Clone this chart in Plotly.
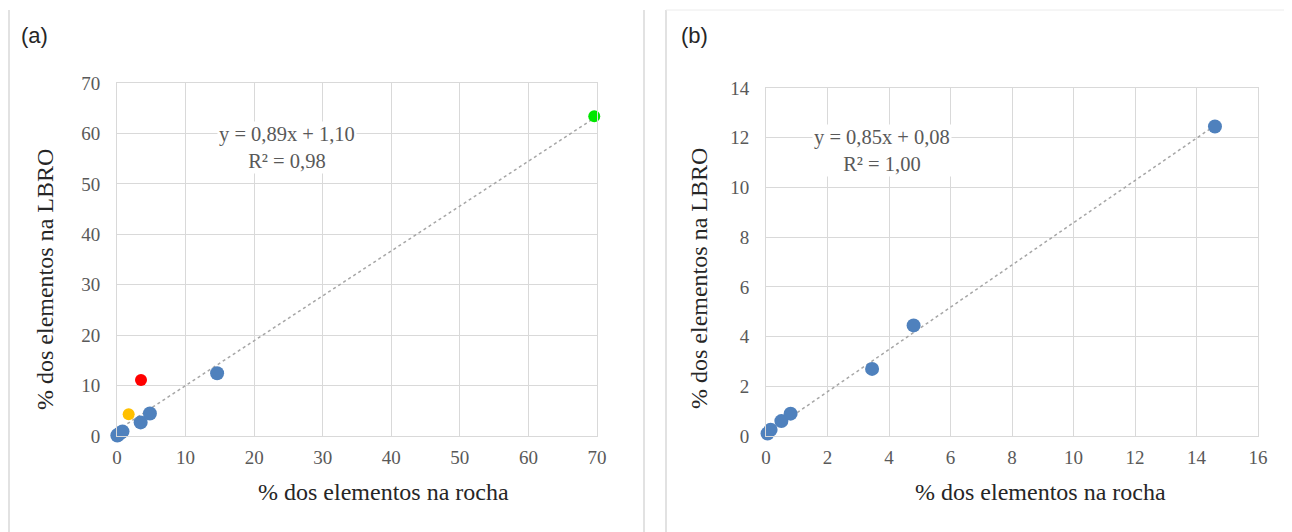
import plotly.graph_objects as go

# ---- Data ----
# Panel (a)
a_blue_x = [0.05, 0.15, 0.5, 0.8, 3.45, 4.8, 14.6]
a_blue_y = [0.1, 0.25, 0.6, 0.9, 2.7, 4.45, 12.45]
a_red_x = [3.5]
a_red_y = [11.1]
a_orange_x = [1.7]
a_orange_y = [4.3]
a_green_x = [69.6]
a_green_y = [63.4]
a_slope, a_intercept = 0.89, 1.10
a_eq = "y = 0,89x + 1,10<br>R² = 0,98"

# Panel (b)
b_x = [0.05, 0.15, 0.5, 0.8, 3.45, 4.8, 14.6]
b_y = [0.1, 0.25, 0.6, 0.9, 2.7, 4.45, 12.45]
b_slope, b_intercept = 0.85, 0.08
b_eq = "y = 0,85x + 0,08<br>R² = 1,00"

a_ticks = [0, 10, 20, 30, 40, 50, 60, 70]
b_xticks = [0, 2, 4, 6, 8, 10, 12, 14, 16]
b_yticks = [0, 2, 4, 6, 8, 10, 12, 14]

x_title = "% dos elementos na rocha"
y_title = "% dos elementos na LBRO"

W, H = 1292, 532
OFF = 8  # page body margin
BLUE = "#4F81BD"
GRID = "#d9d9d9"
TICK_COL = "#595959"
TITLE_COL = "#262626"
SERIF = "Liberation Serif"
SANS = "Liberation Sans"

fig = go.Figure()

# trendlines
a_all_x = a_blue_x + a_red_x + a_orange_x + a_green_x
a_tx = [min(a_all_x), max(a_all_x)]
fig.add_trace(go.Scatter(x=a_tx, y=[a_slope * v + a_intercept for v in a_tx],
                         mode="lines", line=dict(color="#a6a6a6", width=1.5, dash="dot"),
                         xaxis="x", yaxis="y", showlegend=False, hoverinfo="skip",
                         cliponaxis=False))
b_tx = [min(b_x), max(b_x)]
fig.add_trace(go.Scatter(x=b_tx, y=[b_slope * v + b_intercept for v in b_tx],
                         mode="lines", line=dict(color="#a6a6a6", width=1.5, dash="dot"),
                         xaxis="x2", yaxis="y2", showlegend=False, hoverinfo="skip",
                         cliponaxis=False))

# markers panel a
for xs, ys, col, sz in [(a_blue_x, a_blue_y, BLUE, 14), (a_red_x, a_red_y, "#FF0000", 12),
                        (a_orange_x, a_orange_y, "#FFC000", 12),
                        (a_green_x, a_green_y, "#00E600", 12)]:
    fig.add_trace(go.Scatter(x=xs, y=ys, mode="markers", cliponaxis=False,
                             marker=dict(color=col, size=sz),
                             xaxis="x", yaxis="y", showlegend=False))
# markers panel b
fig.add_trace(go.Scatter(x=b_x, y=b_y, mode="markers", cliponaxis=False,
                         marker=dict(color=BLUE, size=14),
                         xaxis="x2", yaxis="y2", showlegend=False))


def px_x(p):
    return (p - OFF) / W


def px_y(p):
    return 1 - (p - OFF) / H


axis_common = dict(showgrid=True, gridcolor=GRID, gridwidth=1, zeroline=False,
                   showline=True, linecolor=GRID, linewidth=1, mirror=True,
                   automargin=False, ticks="",
                   tickfont=dict(family=SERIF, size=19, color=TICK_COL))
title_font = dict(family=SERIF, size=24, color=TITLE_COL)

fig.update_layout(
    template="none",
    font=dict(family=SERIF, color=TITLE_COL),
    width=W, height=H,
    margin=dict(l=0, r=0, t=0, b=0, pad=0),
    paper_bgcolor="white", plot_bgcolor="white",
    showlegend=False,
    xaxis=dict(domain=[px_x(117), px_x(597)], range=[0, 70], tickvals=a_ticks,
               anchor="y", ticklabelstandoff=4, **axis_common),
    yaxis=dict(domain=[px_y(436), px_y(83)], range=[0, 70], tickvals=a_ticks,
               anchor="x", ticklabelstandoff=12, **axis_common),
    xaxis2=dict(domain=[px_x(766), px_x(1258)], range=[0, 16], tickvals=b_xticks,
                anchor="y2", ticklabelstandoff=4, **axis_common),
    yaxis2=dict(domain=[px_y(436), px_y(88)], range=[0, 14], tickvals=b_yticks,
                anchor="x2", ticklabelstandoff=12, **axis_common),
)

# axis titles (placed like the reference: slightly off-centre)
for tx, ty in [(383, 492), (1040, 492)]:
    fig.add_annotation(x=px_x(tx), y=px_y(ty), xref="paper", yref="paper", text=x_title,
                       showarrow=False, xanchor="center", yanchor="middle", font=title_font)
for tx, ty in [(45, 280), (699, 279)]:
    fig.add_annotation(x=px_x(tx), y=px_y(ty), xref="paper", yref="paper", text=y_title,
                       showarrow=False, xanchor="center", yanchor="middle", textangle=-90,
                       font=title_font)

# equation labels
fig.add_annotation(x=24.8, y=57.3, xref="x", yref="y", text=a_eq, showarrow=False,
                   font=dict(family=SERIF, size=20.5, color=TICK_COL), bgcolor="white",
                   align="center")
fig.add_annotation(x=3.77, y=11.5, xref="x2", yref="y2", text=b_eq, showarrow=False,
                   font=dict(family=SERIF, size=20.5, color=TICK_COL), bgcolor="white",
                   align="center")

# panel labels
fig.add_annotation(x=px_x(19), y=px_y(36), xref="paper", yref="paper", text="(a)",
                   showarrow=False, xanchor="left", yanchor="middle",
                   font=dict(family=SANS, size=22, color="#262626"))
fig.add_annotation(x=px_x(679), y=px_y(36), xref="paper", yref="paper", text="(b)",
                   showarrow=False, xanchor="left", yanchor="middle",
                   font=dict(family=SANS, size=22, color="#262626"))

# panel borders
border = dict(color="#d9d9d9", width=1.5)
fig.add_shape(type="line", xref="paper", yref="paper", x0=px_x(9), x1=px_x(9),
              y0=px_y(10), y1=0, line=border)
fig.add_shape(type="line", xref="paper", yref="paper", x0=px_x(644), x1=px_x(644),
              y0=px_y(10), y1=0, line=border)
fig.add_shape(type="line", xref="paper", yref="paper", x0=px_x(666), x1=px_x(666),
              y0=px_y(10), y1=0, line=border)
fig.add_shape(type="line", xref="paper", yref="paper", x0=px_x(666), x1=1,
              y0=px_y(10), y1=px_y(10), line=dict(color="#ececec", width=1))

fig.write_html("out.html")
